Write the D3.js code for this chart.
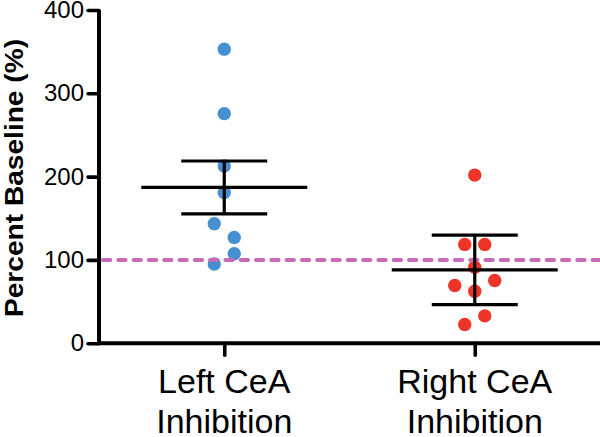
<!DOCTYPE html>
<html>
<head>
<meta charset="utf-8">
<script src="https://cdn.jsdelivr.net/npm/d3@7"></script>
<style>
  html, body { margin: 0; padding: 0; background: #fff; }
  svg { display: block; font-family: "Liberation Sans", Arial, Helvetica, sans-serif; }
</style>
</head>
<body>
<svg id="chart" width="600" height="437"></svg>
<script>
// ---- data ----
const categories = ["Left CeA Inhibition", "Right CeA Inhibition"];
const categoryLines = [["Left CeA", "Inhibition"], ["Right CeA", "Inhibition"]];
const leftValues = [353, 275.6, 212.7, 181, 143.4, 127, 95, 107.3];
const rightValues = [201.8, 118.6, 118.6, 91.3, 62.5, 69.3, 75.3, 22.5, 32.8];
const groupMeans = [187, 88];
const groupErrors = [31.7, 41.7];
const yTicks = [0, 100, 200, 300, 400];
const baselineValue = 100;
const yTitle = "Percent Baseline (%)";

// ---- layout ----
const svg = d3.select("#chart");
const plotL = 99, plotR = 600, plotT = 10, plotB = 343.2;
const dotColors = ["#4690d1", "#ee3427"];
const dotR = 6.7;

const x = d3.scalePoint().domain(categories).range([plotL, plotR]).padding(0.5);
const y = d3.scaleLinear().domain([0, 400]).range([plotB, plotT]);

// ---- dot placement: rows of nearby values, spread symmetrically ----
function placeDots(values, cx) {
  const items = values.map((v, i) => ({ v, i, py: y(v) }));
  const sorted = items.slice().sort((a, b) => a.v - b.v || a.i - b.i);
  const rows = [];
  let cur = null;
  sorted.forEach(p => {
    if (cur && (cur.start - p.py) < 14) { cur.pts.push(p); }
    else { cur = { start: p.py, pts: [p] }; rows.push(cur); }
  });
  const out = [];
  rows.forEach(r => {
    const pts = r.pts.slice().sort((a, b) => a.i - b.i);
    const n = pts.length;
    let slots;
    if (n % 2 === 1) {
      slots = [0];
      for (let k = 1; slots.length < n; k++) { slots.push(-k * 20); slots.push(k * 20); }
    } else {
      slots = [];
      for (let k = 0; slots.length < n; k++) { slots.push(-(k * 20 + 10)); slots.push(k * 20 + 10); }
    }
    pts.forEach((p, j) => out.push({ v: p.v, cx: cx + slots[j], cy: p.py }));
  });
  return out;
}

const groups = [leftValues, rightValues];
groups.forEach((vals, gi) => {
  const cx = x(categories[gi]);
  svg.append("g").selectAll("circle")
    .data(placeDots(vals, cx))
    .join("circle")
    .attr("cx", d => d.cx)
    .attr("cy", d => d.cy)
    .attr("r", dotR)
    .attr("fill", dotColors[gi]);
});

// ---- baseline dashed line ----
svg.append("line")
  .attr("x1", plotL + 4).attr("x2", plotR)
  .attr("y1", y(baselineValue)).attr("y2", y(baselineValue))
  .attr("stroke", "#c86ab4")
  .attr("stroke-width", 4)
  .attr("stroke-linecap", "round")
  .attr("stroke-dasharray", "7.3,8");

// ---- mean +/- error bars ----
const eb = svg.append("g").attr("stroke", "#000").attr("stroke-width", 3.2);
categories.forEach((c, i) => {
  const cx = x(c);
  const m = groupMeans[i], e = groupErrors[i];
  eb.append("line").attr("x1", cx - 83).attr("x2", cx + 83).attr("y1", y(m)).attr("y2", y(m));
  eb.append("line").attr("x1", cx - 43).attr("x2", cx + 43).attr("y1", y(m + e)).attr("y2", y(m + e));
  eb.append("line").attr("x1", cx - 43).attr("x2", cx + 43).attr("y1", y(m - e)).attr("y2", y(m - e));
  eb.append("line").attr("x1", cx).attr("x2", cx).attr("y1", y(m + e)).attr("y2", y(m - e));
});

// ---- axes ----
const yAxis = d3.axisLeft(y).tickValues(yTicks).tickSize(11).tickPadding(4).tickFormat(d3.format("d"));
const gy = svg.append("g").attr("transform", `translate(${plotL},0)`).call(yAxis);
gy.select(".domain").attr("stroke", "#000").attr("stroke-width", 4).attr("d", `M0,${plotT}V${plotB}`);
gy.selectAll(".tick line").attr("stroke", "#000").attr("stroke-width", 3.6).attr("stroke-linecap", "round");
gy.selectAll(".tick text").attr("font-size", 24).attr("fill", "#000")
  .attr("font-family", "'Liberation Sans', Arial, sans-serif");

const xAxis = d3.axisBottom(x).tickSize(12).tickFormat(() => "");
const gx = svg.append("g").attr("transform", `translate(0,${plotB})`).call(xAxis);
gx.select(".domain").attr("stroke", "#000").attr("stroke-width", 4).attr("d", `M${plotL - 2},0H${plotR}`);
gx.selectAll(".tick line").attr("stroke", "#000").attr("stroke-width", 3.6).attr("stroke-linecap", "round");

// category labels (two lines)
categories.forEach((c, i) => {
  const t = svg.append("text")
    .attr("x", x(c)).attr("y", 393)
    .attr("text-anchor", "middle")
    .attr("font-size", 34).attr("fill", "#000");
  categoryLines[i].forEach((ln, j) => {
    t.append("tspan").attr("x", x(c)).attr("dy", j === 0 ? 0 : 40).text(ln);
  });
});

// y title
svg.append("text")
  .attr("transform", `translate(23,178) rotate(-90)`)
  .attr("text-anchor", "middle")
  .attr("font-size", 26).attr("font-weight", "bold").attr("fill", "#000")
  .attr("textLength", 278).attr("lengthAdjust", "spacingAndGlyphs")
  .text(yTitle);
</script>
</body>
</html>
